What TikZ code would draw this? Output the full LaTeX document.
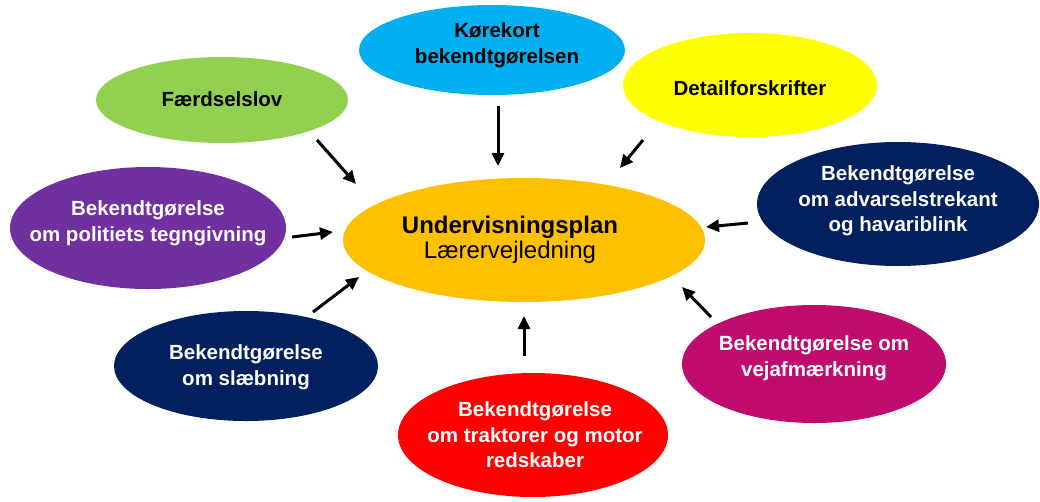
\documentclass[tikz,border=0pt]{standalone}
\usepackage{fontspec}
\setmainfont{Liberation Sans}
\usetikzlibrary{shapes.geometric,arrows.meta}
\definecolor{cgreen}{HTML}{92D050}
\definecolor{ccyan}{HTML}{00B0F0}
\definecolor{cyellow}{HTML}{FFFF00}
\definecolor{cpurple}{HTML}{7030A0}
\definecolor{corange}{HTML}{FFC000}
\definecolor{cnavy}{HTML}{002060}
\definecolor{cred}{HTML}{FF0000}
\definecolor{cmagenta}{HTML}{C00C6E}
\begin{document}
\begin{tikzpicture}[x=1pt,y=-1pt,
  blob/.style={ellipse,inner sep=0pt,draw=none},
  lbl/.style={font=\bfseries\fontsize{20.5}{25.5}\selectfont,align=center,inner sep=0pt},
  wlbl/.style={lbl,text=white},
  arr/.style={line width=3pt,-{Triangle[length=13pt,width=12pt]}}]
\useasboundingbox[fill=white] (0,0) rectangle (1040,501);
% ellipses
\node[blob,fill=cgreen,minimum width=252pt,minimum height=86pt] (fl) at (222,100) {};
\node[blob,fill=ccyan,minimum width=266pt,minimum height=90pt] (kk) at (492,50) {};
\node[blob,fill=cyellow,minimum width=254pt,minimum height=104pt] (df) at (750,85) {};
\node[blob,fill=cpurple,minimum width=276pt,minimum height=122pt] (pt) at (148,228) {};
\node[blob,fill=corange,minimum width=362pt,minimum height=124pt] (up) at (524,240) {};
\node[blob,fill=cnavy,minimum width=282pt,minimum height=124pt] (ad) at (898,204) {};
\node[blob,fill=cnavy,minimum width=264pt,minimum height=110pt] (sl) at (246,366) {};
\node[blob,fill=cred,minimum width=270pt,minimum height=124pt] (rd) at (533,435) {};
\node[blob,fill=cmagenta,minimum width=264pt,minimum height=118pt] (mg) at (814,364) {};
% texts
\node[lbl] (flt) at (222,99) {Færdselslov};
\node[lbl] (kkt) at (497,45) {Kørekort\\bekendtgørelsen};
\node[lbl] (dft) at (750,88) {Detailforskrifter};
\node[wlbl] (ptt) at (148,223) {Bekendtgørelse\\om politiets tegngivning};
\node[lbl,align=center] (upt) at (510,240) {{\bfseries\fontsize{24}{29}\selectfont Undervisningsplan}\\{\mdseries\fontsize{24}{29}\selectfont Lærervejledning}};
\node[wlbl] (adt) at (898,201) {Bekendtgørelse\\om advarselstrekant\\og havariblink};
\node[wlbl] (slt) at (246,367) {Bekendtgørelse\\om slæbning};
\node[wlbl] (rdt) at (535,435) {Bekendtgørelse\\om traktorer og motor\\redskaber};
\node[wlbl] (mgt) at (814,358) {Bekendtgørelse om\\vejafmærkning};
% arrow end points
\coordinate (a1s) at (317,140); \coordinate (a1e) at (356,184);
\coordinate (a2s) at (498,106); \coordinate (a2e) at (498,166);
\coordinate (a3s) at (643,140); \coordinate (a3e) at (620,168);
\coordinate (a4s) at (292,237); \coordinate (a4e) at (333,232);
\coordinate (a5s) at (748,223); \coordinate (a5e) at (706,227);
\coordinate (a6s) at (313,312); \coordinate (a6e) at (359,277);
\coordinate (a7s) at (524,356); \coordinate (a7e) at (524,316);
\coordinate (a8s) at (711,317); \coordinate (a8e) at (682,287);
\foreach \i in {1,...,8} {\draw[arr] (a\i s) -- (a\i e);}
\end{tikzpicture}
\end{document}
